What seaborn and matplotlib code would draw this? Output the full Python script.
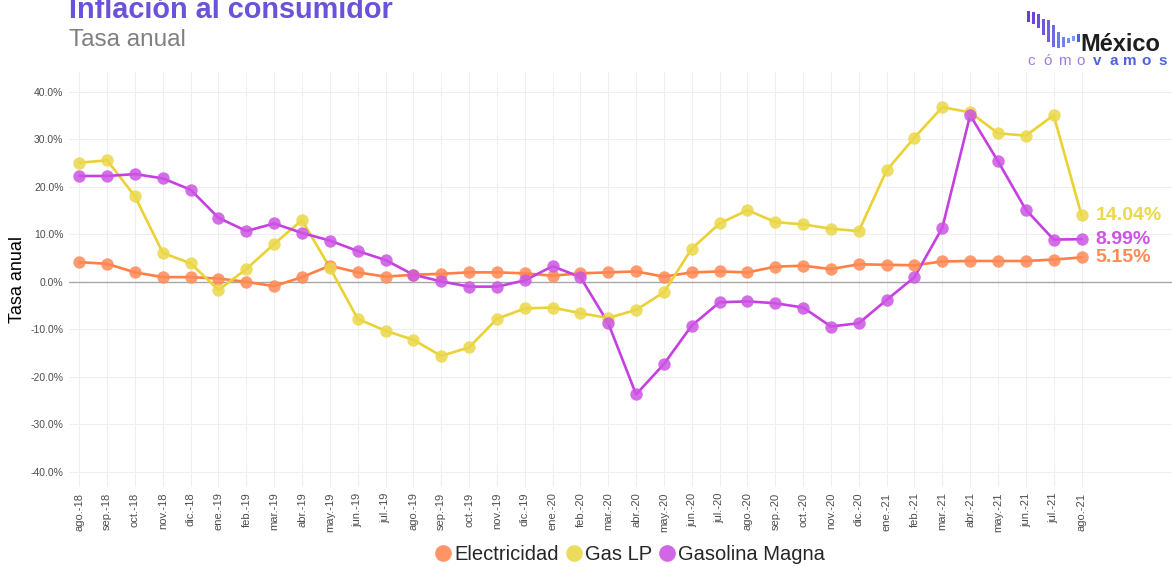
import matplotlib
matplotlib.use("Agg")
import matplotlib.pyplot as plt
import seaborn as sns
import pandas as pd
import numpy as np
from matplotlib.lines import Line2D
from matplotlib.patches import Rectangle

# ---- data ----
months = ['ago.-18', 'sep.-18', 'oct.-18', 'nov.-18', 'dic.-18', 'ene.-19', 'feb.-19', 'mar.-19',
          'abr.-19', 'may.-19', 'jun.-19', 'jul.-19', 'ago.-19', 'sep.-19', 'oct.-19', 'nov.-19',
          'dic.-19', 'ene.-20', 'feb.-20', 'mar.-20', 'abr.-20', 'may.-20', 'jun.-20', 'jul.-20',
          'ago.-20', 'sep.-20', 'oct.-20', 'nov.-20', 'dic.-20', 'ene.-21', 'feb.-21', 'mar.-21',
          'abr.-21', 'may.-21', 'jun.-21', 'jul.-21', 'ago.-21']

electricidad = [4.15, 3.8, 2.0, 1.0, 1.0, 0.7, 0.0, -0.9, 1.0, 3.4, 2.0, 1.1,
                1.5, 1.7, 2.0, 2.0, 1.8, 1.3, 1.8, 2.0, 2.2, 1.1, 2.0, 2.2,
                2.0, 3.2, 3.4, 2.7, 3.7, 3.6, 3.5, 4.3, 4.4, 4.4, 4.4, 4.7, 5.15]

gas_lp = [25.1, 25.6, 18.0, 6.1, 3.9, -1.7, 2.7, 8.0, 13.0, 3.0, -7.8, -10.3,
          -12.2, -15.6, -13.8, -7.8, -5.6, -5.4, -6.6, -7.6, -5.9, -2.2, 7.0, 12.3,
          15.1, 12.6, 12.1, 11.2, 10.7, 23.5, 30.4, 36.8, 35.7, 31.3, 30.8, 35.1, 14.04]

magna = [22.3, 22.3, 22.7, 21.8, 19.4, 13.5, 10.7, 12.3, 10.3, 8.7, 6.5, 4.6,
         1.5, 0.1, -1.0, -1.0, 0.3, 3.3, 1.0, -8.7, -23.7, -17.3, -9.2, -4.3,
         -4.1, -4.5, -5.4, -9.4, -8.7, -3.8, 1.0, 11.4, 35.1, 25.4, 15.2, 8.9, 8.99]

series_names = ['Electricidad', 'Gas LP', 'Gasolina Magna']
y_ticks = [-40, -30, -20, -10, 0, 10, 20, 30, 40]

colors = {'Electricidad': '#FF7F45', 'Gas LP': '#EAD234', 'Gasolina Magna': '#C63FE0'}
marker_colors = {'Electricidad': '#FF8A55', 'Gas LP': '#EBD84A', 'Gasolina Magna': '#CC55E4'}

n = len(months)
df = pd.DataFrame({
    'idx': list(range(n)) * 3,
    'valor': electricidad + gas_lp + magna,
    'serie': [series_names[0]] * n + [series_names[1]] * n + [series_names[2]] * n,
})

# ---- figure ----
sns.set_theme(style='white')
plt.rcParams['font.family'] = ['Liberation Sans', 'DejaVu Sans']

W, H = 1172, 567
fig = plt.figure(figsize=(W / 100, H / 100), dpi=100)
ax = fig.add_axes([69 / W, 1 - 487 / H, (W - 69) / W, (487 - 72) / H])

ax.set_facecolor('white')
for s in ax.spines.values():
    s.set_visible(False)

# grid
ax.set_xticks(range(n))
ax.set_yticks(y_ticks)
ax.grid(True, color='#EFEFEF', linewidth=0.8)
ax.set_axisbelow(True)
ax.axhline(0, color='#A8A8A8', linewidth=1.0, zorder=1)

sns.lineplot(data=df, x='idx', y='valor', hue='serie', palette=colors,
             linewidth=1.9, legend=False, ax=ax, zorder=2)
for name in series_names:
    sub = df[df['serie'] == name]
    sns.scatterplot(data=sub, x='idx', y='valor', color=marker_colors[name],
                    s=80, alpha=0.85, linewidth=0, legend=False, ax=ax, zorder=3)

# end labels
for name, vals in zip(series_names, [electricidad, gas_lp, magna]):
    ax.text(n - 1 + 0.5, vals[-1], f'{vals[-1]:.2f}%', color=marker_colors[name],
            fontsize=14, fontweight='bold', va='center', ha='left')

ax.set_xlim(-0.37, 39.25)
ax.set_ylim(-43.2, 44.2)
ax.set_xticklabels(months, rotation=90, fontsize=8, color='#4D4D4D')
ax.set_yticklabels([f'{v:.1f}%' for v in y_ticks], fontsize=7.5, color='#4D4D4D')
ax.tick_params(axis='both', length=0, pad=4)
ax.set_xlabel('')
ax.set_ylabel('Tasa anual', fontsize=13, color='black', labelpad=3)

# legend
handles = [Line2D([0], [0], marker='o', linestyle='', markersize=12,
                  markerfacecolor=marker_colors[nm], markeredgewidth=0, alpha=0.9)
           for nm in series_names]
fig.legend(handles, series_names, loc='center', bbox_to_anchor=(629 / W, 1 - 555 / H),
           ncol=3, frameon=False, fontsize=14.5, handletextpad=0.05, columnspacing=0.25,
           handlelength=1.0, borderaxespad=0)

# title / subtitle
fig.text(69 / W, 1 - 18 / H, 'Inflación al consumidor', fontsize=20.8, fontweight='bold',
         color='#6A52D9', va='baseline', ha='left')
fig.text(69 / W, 1 - 46 / H, 'Tasa anual', fontsize=17.5, color='#808080',
         va='baseline', ha='left')

# logo (decoration)
bars = [(1027, 11, 22), (1032, 12, 24), (1037, 14, 28), (1042, 19, 35), (1047, 20, 42),
        (1052, 25, 47), (1057, 32, 48), (1062, 37, 47), (1067, 38, 43), (1072, 36, 41),
        (1077, 34, 42)]
bar_cols = ['#6A3FD6', '#6C45D8', '#6E4CDB', '#7055DE', '#715FE1', '#706BE5', '#6F78E8',
            '#7085EB', '#7592EE', '#7A9CF0', '#4B63D8']
for (bx, t, b), c in zip(bars, bar_cols):
    fig.patches.append(Rectangle((bx / W, 1 - b / H), 2.8 / W, (b - t) / H,
                                 transform=fig.transFigure, color=c, linewidth=0))
fig.text(1080 / W, 1 - 51 / H, 'México', fontsize=17, fontweight='bold', color='#1E1E1E',
         va='baseline', ha='left')
letters = list('cómovamos')
for i, ch in enumerate(letters):
    bold = i >= 4
    fig.text((1031 + i * 16.5) / W, 1 - 65 / H, ch, fontsize=11,
             fontweight='bold' if bold else 'normal',
             color='#4E62E0' if bold else '#9A7FE3', va='baseline', ha='center')

fig.savefig('out.png', dpi=100, facecolor='white')
